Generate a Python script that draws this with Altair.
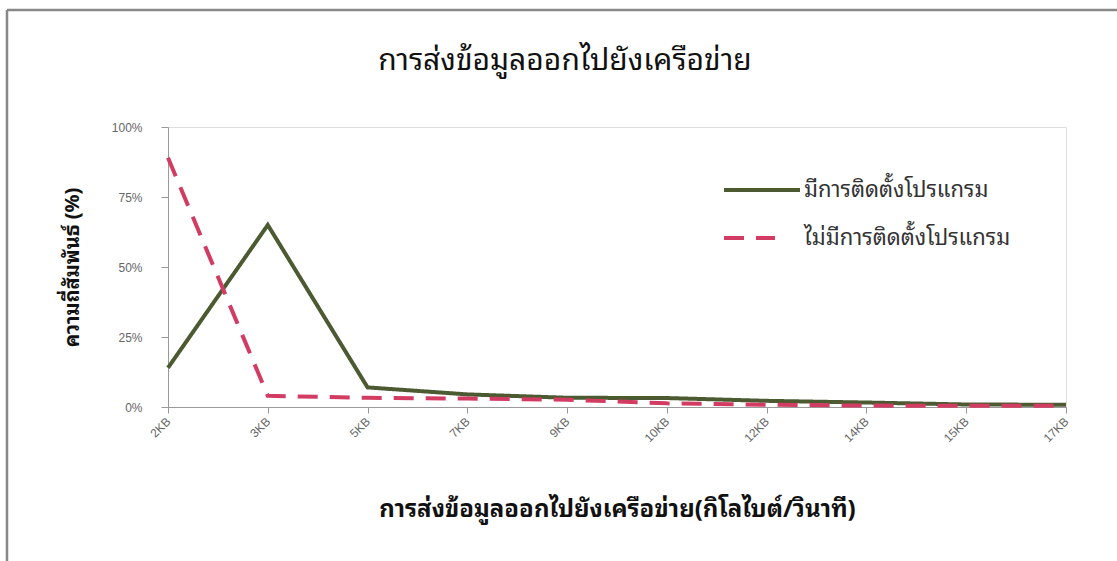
import altair as alt
import pandas as pd

# Upload rate buckets (KB/s) and relative frequency (%) per group
categories = ["2KB", "3KB", "5KB", "7KB", "9KB", "10KB", "12KB", "14KB", "15KB", "17KB"]
installed = [14, 65, 7, 4.5, 3.3, 3.2, 2.2, 1.6, 0.9, 0.8]
not_installed = [89, 4, 3.3, 3, 2.6, 1.3, 0.8, 0.5, 0.4, 0.5]
series_names = ["มีการติดตั้งโปรแกรม", "ไม่มีการติดตั้งโปรแกรม"]
series_colors = ["#4b5a30", "#d23c63"]
series_dashes = [[1, 0], [20, 12]]
y_ticks = [0, 25, 50, 75, 100]

rows = []
for name, values, k in ((series_names[0], installed, 0), (series_names[1], not_installed, 1)):
    for c, v in zip(categories, values):
        rows.append({"rate": c, "value": v, "group": name, "order": k})
df = pd.DataFrame(rows)

THAI = "'Noto Sans Thai Looped', 'Noto Sans Thai', Tahoma, sans-serif"
W, H = 898, 280

lines = alt.Chart(df).mark_line(strokeWidth=4, strokeJoin="miter").encode(
    x=alt.X(
        "rate:N",
        sort=categories,
        scale=alt.Scale(type="point", padding=0),
        axis=alt.Axis(
            title="การส่งข้อมูลออกไปยังเครือข่าย(กิโลไบต์/วินาที)",
            titleFont=THAI, titleFontSize=24, titleFontWeight="bold", titleColor="#111",
            titleX=W / 2, titleY=102, titleBaseline="middle", titleAlign="center",
            labelAngle=315, labelAlign="right", labelBaseline="middle",
            labelFont="Liberation Sans", labelFontSize=12, labelColor="#666",
            labelPadding=6, tickSize=6, tickColor="#999", domainColor="#999",
            grid=False,
        ),
    ),
    y=alt.Y(
        "value:Q",
        scale=alt.Scale(domain=[0, 100]),
        axis=alt.Axis(
            title="ความถี่สัมพันธ์ (%)",
            titleFont=THAI, titleFontSize=20, titleFontWeight="bold", titleColor="#111",
            titleAngle=270, titleX=-96, titleY=H / 2, titleAlign="center", titleBaseline="middle",
            values=y_ticks, labelExpr="datum.value + '%'",
            labelFont="Liberation Sans", labelFontSize=12, labelColor="#666",
            labelPadding=19, tickSize=7, tickColor="#999", domainColor="#999",
            grid=False,
        ),
    ),
    color=alt.Color("group:N", sort=series_names,
                    scale=alt.Scale(domain=series_names, range=series_colors), legend=None),
    strokeDash=alt.StrokeDash("group:N", sort=series_names,
                              scale=alt.Scale(domain=series_names, range=series_dashes), legend=None),
    order=alt.Order("order:Q"),
    detail="group:N",
)

# Legend drawn inside the plot: a line sample and a label per series
legend_layers = []
sample_ends = [632, 607]
for k, name in enumerate(series_names):
    ly = 63 + 48 * k
    legend_layers.append(
        alt.Chart().mark_rule(strokeWidth=4, color=series_colors[k], strokeDash=series_dashes[k]).encode(
            x=alt.value(556), x2=alt.value(sample_ends[k]), y=alt.value(ly)
        )
    )
    legend_layers.append(
        alt.Chart().mark_text(text=name, font=THAI, fontSize=22, color="#333",
                              align="left", baseline="middle").encode(
            x=alt.value(636), y=alt.value(ly)
        )
    )

title = alt.Chart().mark_text(
    text="การส่งข้อมูลออกไปยังเครือข่าย", font=THAI, fontSize=30, color="#111",
    align="center", baseline="middle",
).encode(x=alt.value(565 - 168), y=alt.value(61 - 127))

# Frame along the top and left edges of the figure
frame_top = alt.Chart().mark_rule(color="#888", strokeWidth=2.5).encode(
    x=alt.value(-161), x2=alt.value(1117 - 168), y=alt.value(-117)
)
frame_left = alt.Chart().mark_rule(color="#888", strokeWidth=2.5).encode(
    x=alt.value(-161), y=alt.value(-117), y2=alt.value(561 - 127)
)

chart = alt.layer(lines, *legend_layers, title, frame_top, frame_left).properties(
    width=W,
    height=H,
    autosize=alt.AutoSizeParams(type="none"),
    padding={"left": 168, "top": 127, "right": 51, "bottom": 154},
).configure_view(stroke=None).configure(background="white")

chart.save("out.html", embed_options={"renderer": "svg", "actions": False})
